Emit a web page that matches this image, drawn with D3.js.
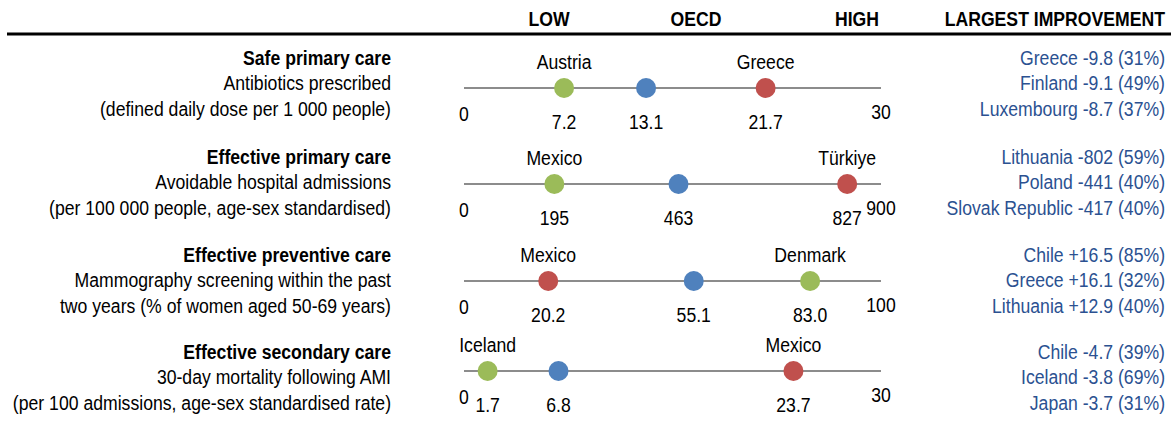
<!DOCTYPE html>
<html>
<head>
<meta charset="utf-8">
<script src="https://cdn.jsdelivr.net/npm/d3@7"></script>
<style>
  body { margin: 0; background: #fff; }
  svg text { font-family: 'Liberation Sans', Arial, sans-serif; font-size: 21px; fill: #000; }
</style>
</head>
<body>
<svg id="chart" width="1171" height="424"></svg>
<script>
// Data
const categories = ['Safe primary care', 'Effective primary care', 'Effective preventive care', 'Effective secondary care'];
const descriptions = [
  ['Antibiotics prescribed', '(defined daily dose per 1 000 people)'],
  ['Avoidable hospital admissions', '(per 100 000 people, age-sex standardised)'],
  ['Mammography screening within the past', 'two years (% of women aged 50-69 years)'],
  ['30-day mortality following AMI', '(per 100 admissions, age-sex standardised rate)']
];
const scaleMax = [30, 900, 100, 30];
const decimals = [1, 0, 1, 1];
const bestCountry = ['Austria', 'Mexico', 'Denmark', 'Iceland'];
const bestValue = [7.2, 195, 83.0, 1.7];
const oecdValue = [13.1, 463, 55.1, 6.8];
const worstCountry = ['Greece', 'Türkiye', 'Mexico', 'Mexico'];
const worstValue = [21.7, 827, 20.2, 23.7];
const improvements = [
  ['Greece -9.8 (31%)', 'Finland -9.1 (49%)', 'Luxembourg -8.7 (37%)'],
  ['Lithuania -802 (59%)', 'Poland -441 (40%)', 'Slovak Republic -417 (40%)'],
  ['Chile +16.5 (85%)', 'Greece +16.1 (32%)', 'Lithuania +12.9 (40%)'],
  ['Chile -4.7 (39%)', 'Iceland -3.8 (69%)', 'Japan -3.7 (31%)']
];
const headers = ['LOW', 'OECD', 'HIGH'];

// Layout
const headerPos = [549, 696, 857];
const lineY = [88, 184, 281, 371];
const textTop = [57, 156, 254, 351];
const lineGap = 25.7;
const narrow = 0.84; // no condensed font installed, squeeze horizontally
const colors = { best: '#9bbb59', oecd: '#4f81bd', worst: '#c0504d' };

const svg = d3.select('#chart');

const place = (x, y) => `translate(${x},${y}) scale(${narrow},1)`;
const label = (parent, x, y, str, anchor) =>
  parent
    .append('text')
    .attr('transform', place(x, y))
    .attr('text-anchor', anchor)
    .text(str);

// Header
svg.selectAll('.head')
  .data(headers)
  .enter()
  .append('text')
  .attr('transform', (d, i) => place(headerPos[i], 26))
  .attr('text-anchor', 'middle')
  .style('font-weight', 'bold')
  .text((d) => d);

label(svg, 1165, 26, 'LARGEST IMPROVEMENT', 'end').style('font-weight', 'bold');

svg.append('line')
  .attr('x1', 7).attr('x2', 1171)
  .attr('y1', 34).attr('y2', 34)
  .attr('stroke', '#000')
  .attr('stroke-width', 3);

categories.forEach((cat, i) => {
  const x = d3.scaleLinear().domain([0, scaleMax[i]]).range([464, 881]);
  const g = svg.append('g');
  const base = (k) => textTop[i] + k * lineGap + 7.5;

  // left labels
  label(g, 391, base(0), cat, 'end').style('font-weight', 'bold');
  descriptions[i].forEach((t, k) => label(g, 391, base(k + 1), t, 'end'));

  // right labels
  improvements[i].forEach((t, k) =>
    label(g, 1165, base(k), t, 'end').style('fill', '#2b5191')
  );

  // axis line
  g.append('line')
    .attr('x1', x(0)).attr('x2', x(scaleMax[i]))
    .attr('y1', lineY[i]).attr('y2', lineY[i])
    .attr('stroke', '#8c8c8c')
    .attr('stroke-width', 2);

  // min / max
  label(g, x(0), lineY[i] + 33, '0', 'middle');
  label(g, x(scaleMax[i]), lineY[i] + 31, scaleMax[i], 'middle');

  const pts = [
    { v: bestValue[i], c: colors.best, name: bestCountry[i] },
    { v: oecdValue[i], c: colors.oecd, name: null },
    { v: worstValue[i], c: colors.worst, name: worstCountry[i] }
  ];
  const fmt = d3.format(`.${decimals[i]}f`);

  g.selectAll('circle')
    .data(pts)
    .enter()
    .append('circle')
    .attr('cx', (d) => x(d.v))
    .attr('cy', lineY[i])
    .attr('r', 10)
    .attr('fill', (d) => d.c);

  g.selectAll('.val')
    .data(pts)
    .enter()
    .append('text')
    .attr('transform', (d) => place(x(d.v), lineY[i] + 41))
    .attr('text-anchor', 'middle')
    .text((d) => fmt(d.v));

  g.selectAll('.name')
    .data(pts.filter((d) => d.name))
    .enter()
    .append('text')
    .attr('transform', (d) => place(x(d.v), lineY[i] - 19))
    .attr('text-anchor', 'middle')
    .text((d) => d.name);
});
</script>
</body>
</html>
